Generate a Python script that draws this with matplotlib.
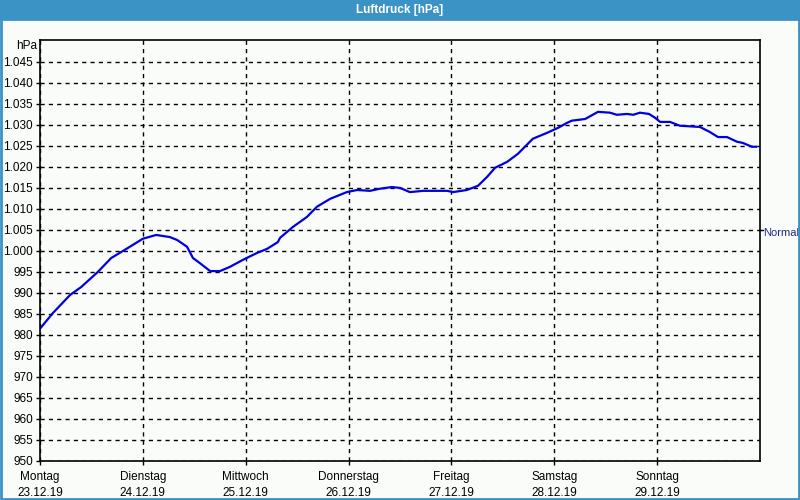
import matplotlib
matplotlib.use("Agg")
import matplotlib.pyplot as plt
from matplotlib.patches import Rectangle

plt.rcParams["font.family"] = ["Liberation Sans", "DejaVu Sans"]

# Luftdruck in hPa, Stunden ab Montag 00:00
stunden = [0.0, 3.0, 7.0, 9.6, 13.5, 16.6, 20.5, 24.0, 27.1, 30.3, 32.0, 34.3,
           35.7, 37.3, 39.7, 42.0, 44.3, 47.4, 50.6, 53.0, 55.5, 56.0, 59.0,
           62.3, 64.6, 67.7, 71.6, 74.0, 77.0, 79.3, 82.1, 84.0, 86.3, 89.4,
           95.0, 96.4, 99.6, 102.2, 104.3, 106.2, 109.0, 111.5, 115.0, 118.3,
           120.9, 123.0, 124.1, 127.2, 130.2, 133.0, 134.6, 137.0, 138.4, 140.0,
           142.1, 143.5, 144.7, 147.0, 149.3, 154.0, 156.3, 158.2, 160.3, 162.6,
           164.0, 166.1, 167.1]
druck = [981.5, 985.2, 989.5, 991.4, 995.0, 998.3, 1000.7, 1002.9, 1003.8, 1003.3,
         1002.6, 1001.0, 998.3, 997.1, 995.2, 995.2, 996.2, 997.9, 999.5, 1000.5,
         1002.1, 1003.1, 1005.7, 1008.1, 1010.5, 1012.4, 1014.0, 1014.5, 1014.3,
         1014.8, 1015.2, 1015.0, 1014.0, 1014.3, 1014.3, 1014.0, 1014.5, 1015.5,
         1017.6, 1019.8, 1021.2, 1023.1, 1026.7, 1028.1, 1029.3, 1030.5, 1031.0,
         1031.4, 1033.1, 1032.9, 1032.4, 1032.6, 1032.4, 1032.9, 1032.6, 1031.7,
         1030.7, 1030.7, 1029.8, 1029.5, 1028.3, 1027.1, 1027.1, 1026.0, 1025.7,
         1024.8, 1024.8]

tage = ["Montag", "Dienstag", "Mittwoch", "Donnerstag", "Freitag", "Samstag", "Sonntag"]
daten = ["23.12.19", "24.12.19", "25.12.19", "26.12.19", "27.12.19", "28.12.19", "29.12.19"]
y_ticks = list(range(950, 1050, 5))
normal = 1005

hintergrund = "#fafcfa"
fig = plt.figure(figsize=(8, 5), dpi=100, facecolor=hintergrund)

# Titelleiste und Rahmen
fig.patches.append(Rectangle((0, 0.96), 1, 0.04, transform=fig.transFigure,
                             facecolor="#3b92c5", edgecolor="none"))
fig.patches.append(Rectangle((0.0015, 0.002), 0.997, 0.96, transform=fig.transFigure,
                             facecolor="none", edgecolor="#3b92c5", linewidth=2))
fig.text(0.5, 0.979, "Luftdruck [hPa]", color="white", fontsize=8.5, fontweight="bold",
         ha="center", va="center")

ax = fig.add_axes([0.05, 0.078, 0.9, 0.842])
ax.set_facecolor(hintergrund)
ax.plot(stunden, druck, color="#0000e0", linewidth=1.6)

ax.set_xlim(0, 168)
ax.set_ylim(950, 1050.2)

ax.set_yticks(y_ticks)
ax.set_yticklabels([f"{v // 1000}.{v % 1000:03d}" if v >= 1000 else str(v) for v in y_ticks])
ax.set_xticks([24 * i for i in range(7)])
ax.set_xticklabels([f"{t}\n{d}" for t, d in zip(tage, daten)], linespacing=1.45)

ax.tick_params(axis="both", labelsize=8.5, length=3, width=1, color="black", pad=2)
ax.tick_params(axis="x", pad=4)

ax.grid(True, color="black", linestyle=(0, (3, 3)), linewidth=1)
for s in ax.spines.values():
    s.set_linewidth(1.2)
    s.set_color("black")

# Normal-Markierung rechts
ax.plot([1.0, 1.004], [normal, normal], color="black", linewidth=1,
        transform=ax.get_yaxis_transform(), clip_on=False)
ax.text(1.004, normal - 0.7, "Normal", color="#1f2a80", fontsize=8,
        ha="left", va="center", transform=ax.get_yaxis_transform())

fig.text(0.046, 0.908, "hPa", fontsize=8.5, ha="right", va="center")

plt.savefig("out.png", dpi=100, facecolor=hintergrund)
